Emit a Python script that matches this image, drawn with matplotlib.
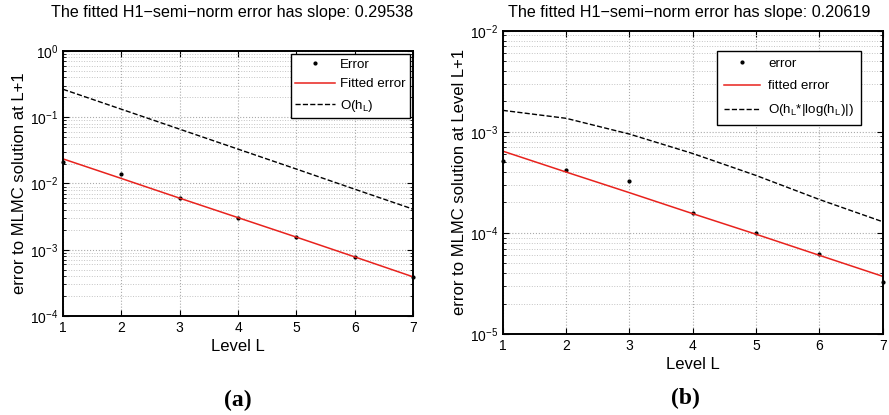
import numpy as np
import matplotlib.pyplot as plt

plt.rcParams['font.family'] = ['Liberation Sans', 'DejaVu Sans']
plt.rcParams['mathtext.fontset'] = 'custom'
plt.rcParams['mathtext.rm'] = 'Liberation Sans'
plt.rcParams['mathtext.it'] = 'Liberation Sans'

levels = [1, 2, 3, 4, 5, 6, 7]

# panel (a)
err_a = [0.021, 0.0141, 0.0060, 0.00305, 0.00158, 0.00077, 0.00039]
fit_a = [0.0235, 0.0119, 0.0060, 0.00305, 0.00155, 0.00078, 0.00039]
ref_a = [0.264, 0.132, 0.066, 0.033, 0.0165, 0.0082, 0.0041]

# panel (b)
err_b = [5.16e-4, 4.18e-4, 3.23e-4, 1.56e-4, 9.9e-5, 6.2e-5, 3.25e-5]
fit_b = [6.44e-4, 4.0e-4, 2.5e-4, 1.55e-4, 9.7e-5, 6.0e-5, 3.72e-5]
ref_b = [1.63e-3, 1.36e-3, 9.5e-4, 6.1e-4, 3.7e-4, 2.14e-4, 1.29e-4]

fig = plt.figure(figsize=(8.89, 4.15), dpi=100)
ax1 = fig.add_axes([0.0709, 0.2386, 0.3937, 0.6386])
ax2 = fig.add_axes([0.5655, 0.1952, 0.4274, 0.7308])


def style(ax, ylim):
    ax.set_yscale('log')
    ax.set_xlim(1, 7)
    ax.set_ylim(*ylim)
    ax.set_xticks(levels)
    ax.grid(True, which='major', axis='both', linestyle=':', color='#aaaaaa', linewidth=0.8)
    ax.grid(True, which='minor', axis='y', linestyle=':', color='#c4c4c4', linewidth=0.7)
    ax.tick_params(which='both', direction='in', top=True, right=True, labelsize=10)
    ax.tick_params(which='major', length=4, width=0.8)
    ax.tick_params(which='minor', length=2, width=0.6)
    for s in ax.spines.values():
        s.set_linewidth(1.4)
    ax.set_xlabel('Level L', fontsize=12, labelpad=3)


ax1.plot(levels, err_a, 'k.', markersize=4, label='Error', clip_on=False)
ax1.plot(levels, fit_a, color='#e8221d', linewidth=1.1, label='Fitted error')
ax1.plot(levels, ref_a, 'k--', linewidth=1.0, label='O(h$_L$)')
style(ax1, (1e-4, 1e0))
ax1.set_ylabel('error to MLMC solution at L+1', fontsize=12, labelpad=2)
ax1.legend(loc='upper right', fontsize=9.6, fancybox=False, framealpha=1,
           edgecolor='black', borderaxespad=0.2, handlelength=3.0, borderpad=0.35,
           labelspacing=0.55, handletextpad=0.35).get_frame().set_linewidth(1.0)

ax2.plot(levels, err_b, 'k.', markersize=4, label='error', clip_on=False)
ax2.plot(levels, fit_b, color='#e8221d', linewidth=1.1, label='fitted error')
ax2.plot(levels, ref_b, 'k--', linewidth=1.0, label='O(h$_L$*|log(h$_L$)|)')
style(ax2, (1e-5, 1e-2))
ax2.set_ylabel('error to MLMC solution at Level L+1', fontsize=12, labelpad=2)
ax2.legend(loc='upper right', fontsize=9.6, fancybox=False, framealpha=1,
           edgecolor='black', bbox_to_anchor=(0.96, 0.955), handlelength=2.75,
           borderpad=0.5, labelspacing=0.75, handletextpad=0.6).get_frame().set_linewidth(1.0)

fig.text(0.261, 1 - 13 / 415, 'The fitted H1\u2212semi\u2212norm error has slope: 0.29538',
         ha='center', va='center', fontsize=11.6)
fig.text(0.775, 1 - 13 / 415, 'The fitted H1\u2212semi\u2212norm error has slope: 0.20619',
         ha='center', va='center', fontsize=11.6)
fig.text(0.268, 1 - 400 / 415, '(a)', ha='center', va='center', fontsize=17,
         fontweight='bold', family='Liberation Serif')
fig.text(0.771, 1 - 398 / 415, '(b)', ha='center', va='center', fontsize=17,
         fontweight='bold', family='Liberation Serif')

fig.savefig('out.png', dpi=100)
